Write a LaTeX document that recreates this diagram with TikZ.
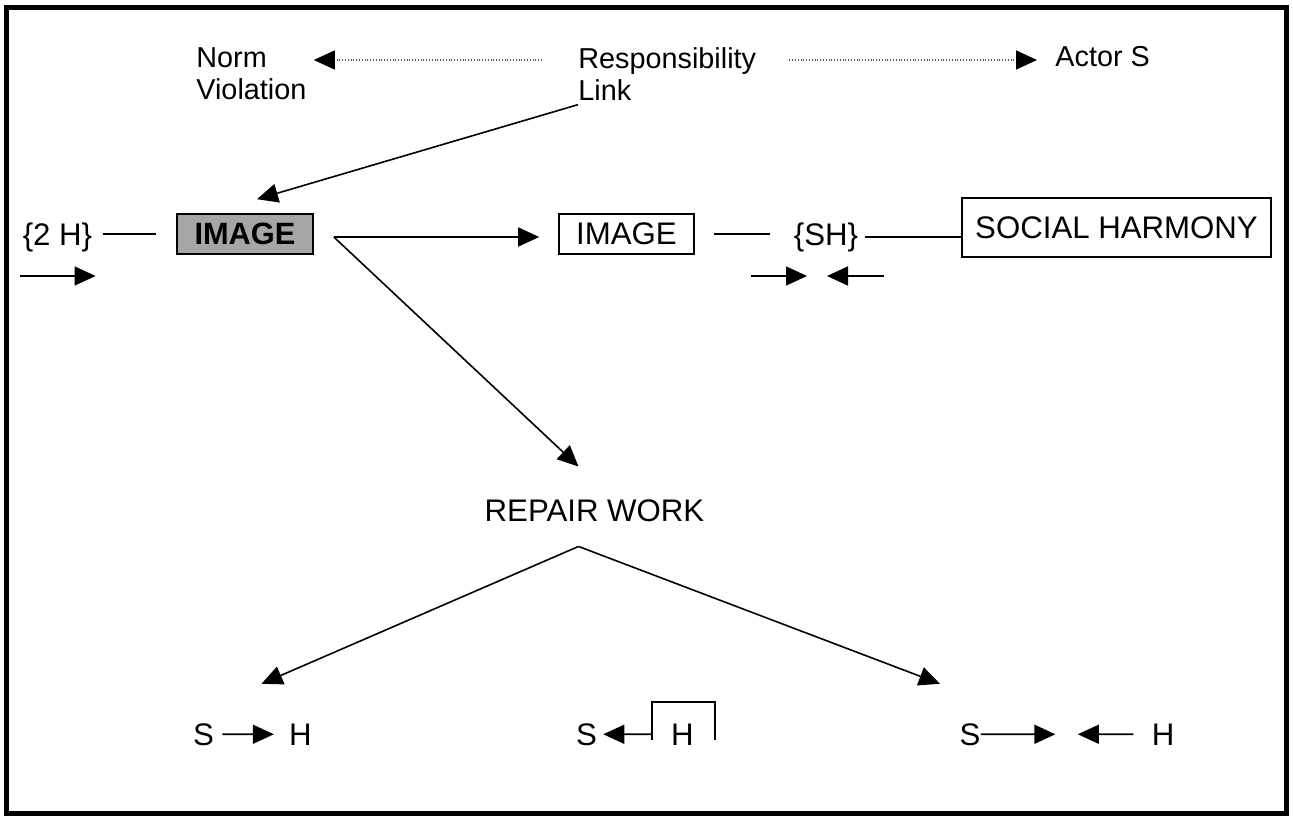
\documentclass[tikz,border=0pt]{standalone}
\usepackage{fontspec}
\setmainfont{Liberation Sans}
\usepackage{tikz}
\usetikzlibrary{arrows.meta,positioning}
\definecolor{shade}{HTML}{A6A6A6}
\definecolor{dotgray}{HTML}{555555}
\tikzset{
  toptext/.style={font=\fontsize{14.4}{16}\selectfont, inner sep=0pt, align=left},
  midtext/.style={font=\fontsize{15.6}{18}\selectfont, inner sep=0pt},
  framebox/.style={draw, line width=0.8pt, inner sep=0pt, font=\fontsize{15.6}{18}\selectfont},
  plain/.style={line width=0.8pt},
  tip/.style={-{Triangle[length=10.5pt,width=9.5pt]}, line width=0.8pt},
  dotarrow/.style={-{Triangle[length=10.5pt,width=9.5pt,black]}, line width=0.6pt, dash pattern=on 0.5pt off 0.9pt, dotgray}
}

\begin{document}
\begin{tikzpicture}[x=0.5pt, y=-0.5pt]
  \useasboundingbox (0,0) rectangle (1293,817);
  % Outer frame
  \draw[line width=2.5pt] (6.5,7.5) rectangle (1286,813);

  % Top row
  \node[toptext, anchor=north west] (norm) at (196,47) {Norm\\Violation};
  \node[toptext, anchor=north west] (resp) at (578,47) {Responsibility\\Link};
  \node[toptext, anchor=north west] (actor) at (1055,46) {Actor S};
  \draw[dotarrow] ([xshift=-18pt, yshift=-6.5pt]resp.north west) -- ([xshift=3.5pt, yshift=-6.5pt]norm.north east);
  \draw[dotarrow] ([xshift=16.5pt, yshift=-6.5pt]resp.north east) -- ([xshift=-9pt, yshift=-7pt]actor.north west);

  % Middle row
  \node[midtext] (twoh) at (57.5,237) {\{2 H\}};
  \node[framebox, fill=shade, minimum width=68pt, minimum height=20pt, font=\fontsize{15.4}{18}\selectfont\bfseries] (img) at (245,234) {IMAGE};
  \node[framebox, minimum width=67.5pt, minimum height=20pt] (image) at (626.5,234) {IMAGE};
  \node[midtext] (sh) at (826,237) {\{SH\}};
  \node[framebox, minimum width=154.5pt, minimum height=29.5pt] (social) at (1116.5,227.5) {SOCIAL HARMONY};

  \draw[tip] ([yshift=-2pt]resp.south west) -- ([xshift=6pt, yshift=7pt]img.north);
  \draw[plain] ([xshift=5pt, yshift=1.5pt]twoh.east) -- ([xshift=-10pt, yshift=1.5pt]twoh.east -| img.west);
  \draw[tip] ([xshift=-1pt, yshift=-19.5pt]twoh.west) -- ([xshift=1.5pt, yshift=-19.5pt]twoh.east);
  \coordinate (split) at ([xshift=10pt, yshift=-1.5pt]img.east);
  \draw[tip] (split) -- ([xshift=-9.5pt]split -| image.west);
  \draw[plain] ([xshift=9.5pt]image.east) -- ([xshift=-12pt]image.east -| sh.west);
  \draw[plain] ([xshift=3pt]sh.east) -- (sh.east -| social.west);
  \draw[tip] ([xshift=-37.5pt, yshift=-19.5pt]sh.center) -- ([xshift=-9.5pt, yshift=-19.5pt]sh.center);
  \draw[tip] ([xshift=29pt, yshift=-19.5pt]sh.center) -- ([xshift=0.5pt, yshift=-19.5pt]sh.center);

  % Repair work
  \node[midtext] (repair) at (594.5,511) {REPAIR WORK};
  \draw[tip] (split) -- ([xshift=-8pt, yshift=16.5pt]repair.north);
  \coordinate (fork) at ([xshift=-8pt, yshift=-12pt]repair.south);

  % Bottom row
  \node[midtext, anchor=base] (s1) at (203.5,745) {S};
  \node[midtext, anchor=base] (h1) at (300.5,745) {H};
  \node[midtext, anchor=base] (s2) at (586.5,745) {S};
  \node[midtext, anchor=base] (h2) at (682.5,745) {H};
  \node[midtext, anchor=base] (s3) at (970,745) {S};
  \node[midtext, anchor=base] (h3) at (1163,745) {H};

  \draw[tip] (fork) -- ([xshift=29pt, yshift=19.5pt]s1.north);
  \draw[tip] (fork) -- ([xshift=-15pt, yshift=19.5pt]s3.north);

  \draw[tip] ([xshift=4pt]s1.east) -- ([xshift=-7.5pt]h1.west);
  \draw[tip] ([xshift=-9.5pt]h2.west) -- ([xshift=3pt]s2.east);
  \draw[plain] ([xshift=-9.5pt, yshift=-3pt]h2.west) |- ([yshift=10.5pt]h2.north) -| ([xshift=10.5pt, yshift=-3pt]h2.east);
  \draw[tip] (s3.east) -- ([xshift=-48pt]h3.west);
  \draw[tip] ([xshift=-9pt]h3.west) -- ([xshift=48.5pt]s3.east);
\end{tikzpicture}
\end{document}
